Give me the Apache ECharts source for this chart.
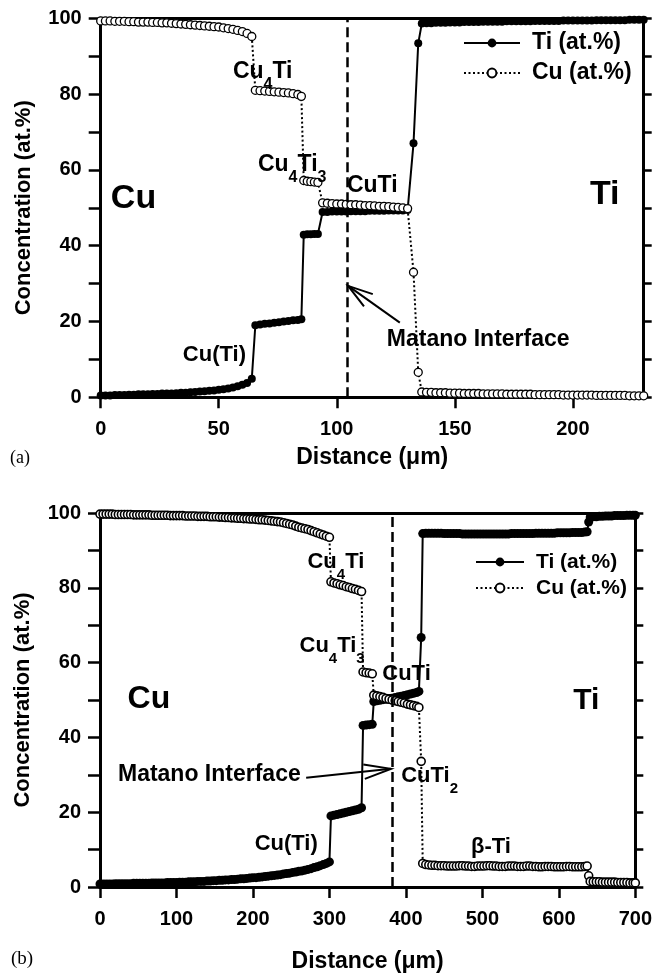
<!DOCTYPE html>
<html><head><meta charset="utf-8">
<script src="https://cdn.jsdelivr.net/npm/echarts@6/dist/echarts.min.js"></script>
<style>html,body{margin:0;padding:0;background:#fff}#c{width:655px;height:974px}</style>
</head><body><div id="c"></div>
<script>
// ---------------- Panel (a) data ----------------
const distA = [0,2,4,6,8,10,12,14,16,18,20,22,24,26,28,30,32,34,36,38,40,42,44,46,48,50,52,54,56,58,60,62,64,
  65.5,67.5,69.5,71.5,73.5,75.5,77.5,79.5,81.5,83.5,85,
  86,87.5,89,90.5,92,
  94,96,98,100,102,104,106,108,110,112,114,116,118,120,122,124,126,128,130,
  132.5,134.5,
  136,138,140,142,144,146,148,150,152,154,156,158,160,162,164,166,168,170,172,174,176,178,180,182,184,186,188,190,192,194,196,198,200,202,204,206,208,210,212,214,216,218,220,222,224,226,228,230];
const tiA = [0.5,0.5,0.5,0.6,0.6,0.6,0.7,0.7,0.8,0.8,0.8,0.9,0.9,1.0,1.0,1.0,1.1,1.2,1.2,1.3,1.4,1.5,1.6,1.7,1.8,2.0,2.1,2.3,2.6,2.9,3.3,3.8,4.9,
  19.0,19.2,19.4,19.5,19.7,19.8,20.0,20.1,20.3,20.4,20.6,
  42.9,43.0,43.0,43.1,43.1,
  48.9,48.9,49.0,49.0,49.0,49.0,49.1,49.1,49.1,49.1,49.2,49.2,49.2,49.2,49.3,49.3,49.3,49.3,49.4,
  67.0,93.4,
  98.6,98.7,98.7,98.8,98.8,98.8,98.9,98.9,98.9,99.0,99.0,99.0,99.0,99.1,99.1,99.1,99.1,99.1,99.2,99.2,
  99.2,99.2,99.2,99.2,99.3,99.3,99.3,99.3,99.3,99.3,99.4,99.4,99.4,99.4,99.4,99.4,99.4,99.5,99.5,99.5,
  99.5,99.5,99.5,99.5,99.6,99.6,99.6,99.6];
const cuA = [99.3,99.3,99.3,99.2,99.2,99.2,99.1,99.1,99.0,99.0,99.0,98.9,98.9,98.8,98.8,98.7,98.6,98.5,98.4,98.3,98.2,98.1,98.0,97.9,97.8,97.7,97.5,97.3,97.1,96.8,96.5,96.0,95.2,
  81.0,80.9,80.8,80.7,80.6,80.5,80.4,80.3,80.1,79.9,79.4,
  57.2,57.0,56.9,56.8,56.7,
  51.3,51.2,51.1,51.0,51.0,50.9,50.8,50.8,50.7,50.6,50.6,50.5,50.4,50.4,50.3,50.2,50.1,50.0,49.8,
  33.0,6.6,
  1.4,1.3,1.3,1.2,1.2,1.2,1.1,1.1,1.1,1.0,1.0,1.0,1.0,0.9,0.9,0.9,0.9,0.9,0.8,0.8,
  0.8,0.8,0.8,0.8,0.7,0.7,0.7,0.7,0.7,0.7,0.6,0.6,0.6,0.6,0.6,0.6,0.6,0.5,0.5,0.5,
  0.5,0.5,0.5,0.5,0.4,0.4,0.4,0.4];
const matanoA = 104.3;

// ---------------- Panel (b) data ----------------
const distB = [0,4,8,12,16,20,24,28,32,36,40,44,48,52,56,60,64,68,72,76,80,84,88,92,96,100,104,108,112,116,
  120,124,128,132,136,140,144,148,152,156,160,164,168,172,176,180,184,188,192,196,
  200,204,208,212,216,220,224,228,232,236,240,244,248,252,256,260,264,268,272,276,280,284,288,292,296,300,
  302,306,310,314,318,322,326,330,334,338,342,
  344,348,352,356,
  358,362,366,370,374,378,382,386,390,394,398,402,406,410,414,417,
  420,
  422,426,430,434,438,442,446,450,454,458,462,466,470,474,478,482,486,490,494,498,
  502,506,510,514,518,522,526,530,534,538,542,546,550,554,558,562,566,570,574,578,
  582,586,590,594,598,602,606,610,614,618,622,626,630,634,637,
  639,
  641,645,649,653,657,661,665,669,673,677,681,685,689,693,697,700];
const tiB = [0.8,0.8,0.8,0.8,0.8,0.9,0.9,0.9,0.9,0.9,0.9,1.0,1.0,1.0,1.0,1.0,1.0,1.1,1.1,1.1,
  1.1,1.1,1.2,1.2,1.2,1.2,1.3,1.3,1.3,1.4,1.4,1.4,1.5,1.5,1.5,1.6,1.6,1.7,1.7,1.8,
  1.8,1.9,1.9,2.0,2.0,2.1,2.2,2.2,2.3,2.4,2.5,2.5,2.6,2.7,2.8,2.9,3.0,3.1,3.2,3.3,
  3.5,3.6,3.7,3.9,4.0,4.2,4.3,4.5,4.7,4.9,5.2,5.4,5.7,6.0,6.3,6.7,
  19.0,19.2,19.4,19.6,19.8,20.0,20.2,20.4,20.6,20.8,21.2,
  43.2,43.3,43.4,43.5,
  49.6,49.8,49.9,50.1,50.2,50.4,50.5,50.7,50.9,51.0,51.2,51.4,51.6,51.8,52.0,52.3,
  66.7,
  94.5,94.6,94.6,94.6,94.6,94.6,94.6,94.5,94.5,94.5,94.5,94.5,94.5,94.4,94.4,94.4,94.4,94.4,94.4,94.4,
  94.4,94.4,94.4,94.4,94.4,94.4,94.4,94.4,94.4,94.5,94.5,94.5,94.5,94.5,94.5,94.5,94.5,94.6,94.6,94.6,
  94.6,94.6,94.6,94.6,94.7,94.7,94.7,94.7,94.7,94.8,94.8,94.8,94.8,94.9,95.0,
  97.6,
  98.9,99.0,99.0,99.1,99.1,99.2,99.2,99.2,99.3,99.3,99.3,99.3,99.4,99.4,99.4,99.4];
const cuB = [99.7,99.7,99.7,99.7,99.7,99.6,99.6,99.6,99.6,99.6,99.6,99.5,99.5,99.5,99.5,99.5,99.5,99.4,99.4,99.4,
  99.4,99.4,99.4,99.3,99.3,99.3,99.3,99.3,99.2,99.2,99.2,99.2,99.1,99.1,99.1,99.1,99.0,99.0,99.0,98.9,
  98.9,98.8,98.8,98.7,98.7,98.6,98.6,98.5,98.5,98.4,98.4,98.3,98.2,98.2,98.1,98.0,97.9,97.8,97.7,97.6,
  97.4,97.2,97.0,96.8,96.5,96.2,96.0,95.8,95.6,95.3,95.0,94.7,94.4,94.1,93.8,93.5,
  81.6,81.3,81.1,80.8,80.6,80.3,80.1,79.8,79.6,79.3,79.0,
  57.5,57.3,57.2,57.0,
  51.3,51.1,50.9,50.7,50.4,50.2,50.0,49.8,49.6,49.4,49.2,48.9,48.7,48.5,48.3,48.0,
  33.6,
  6.3,6.0,5.9,5.8,5.8,5.7,5.7,5.7,5.6,5.6,5.6,5.6,5.7,5.7,5.6,5.6,5.5,5.5,5.6,5.6,
  5.6,5.7,5.7,5.6,5.6,5.5,5.5,5.5,5.6,5.6,5.6,5.5,5.5,5.5,5.6,5.6,5.5,5.5,5.4,5.4,
  5.5,5.5,5.5,5.4,5.4,5.4,5.4,5.5,5.5,5.4,5.4,5.4,5.4,5.5,5.6,
  3.0,
  1.5,1.4,1.4,1.4,1.3,1.3,1.3,1.3,1.3,1.2,1.2,1.2,1.2,1.1,1.1,1.1];
const matanoB = 382;

// ---------------- Axes ticks / labels ----------------
const xTicksA = [0,50,100,150,200];
const xTicksB = [0,100,200,300,400,500,600,700];
const yTicks = [0,10,20,30,40,50,60,70,80,90,100];
const yLabels = [0,20,40,60,80,100];
const seriesNames = ['Ti (at.%)','Cu (at.%)'];

// annotations (data coordinates)
const notesA = [
  {t:'Cu', x:13.9, y:52.3, size:34, align:'center'},
  {t:'Ti', x:213.5, y:53.4, size:34, align:'center'},
  {t:'Cu{s|4}Ti', x:56.0, y:86.0, size:23, align:'left'},
  {t:'Cu{s|4}Ti{s|3}', x:66.6, y:61.3, size:23, align:'left'},
  {t:'CuTi', x:104.3, y:55.8, size:23, align:'left'},
  {t:'Cu(Ti)', x:34.8, y:11.3, size:22, align:'left'},
  {t:'Matano Interface', x:121.2, y:15.1, size:23, align:'left'}
];
const arrowA = {from:[126.7,19.7], to:[104.8,29.4]};
const notesB = [
  {t:'Cu', x:63.9, y:50.1, size:32, align:'center'},
  {t:'Ti', x:635.9, y:49.8, size:30, align:'center'},
  {t:'Cu{s|4}Ti', x:271.3, y:86.9, size:22, align:'left'},
  {t:'Cu{s|4}Ti{s|3}', x:260.9, y:64.5, size:22, align:'left'},
  {t:'CuTi', x:369.1, y:57.0, size:22, align:'left'},
  {t:'CuTi{s|2}', x:393.9, y:29.8, size:22, align:'left'},
  {t:'β-Ti', x:485.2, y:10.7, size:22, align:'left'},
  {t:'Cu(Ti)', x:202.2, y:11.4, size:22, align:'left'},
  {t:'Matano Interface', x:23.5, y:30.0, size:23, align:'left'}
];
const arrowB = {from:[269.6,29.2], to:[380.5,31.6]};

const F = '"Liberation Sans", Arial, Helvetica, sans-serif';
const chart = echarts.init(document.getElementById('c'), null, {renderer:'canvas'});

const txt = (size) => ({fontFamily:F, fontWeight:'bold', fontSize:size, color:'#000'});

function xAx(gi, max, ticks, gap){
  return [{
    gridIndex:gi, type:'value', min:0, max:max, position:'bottom',
    axisLine:{show:true, onZero:false, lineStyle:{color:'#000', width:3}},
    axisTick:{show:true, inside:false, length:11, lineStyle:{color:'#000', width:2.5}, customValues:ticks},
    axisLabel:Object.assign({margin:22, customValues:ticks}, txt(20)),
    splitLine:{show:false},
    name:'Distance (μm)', nameLocation:'middle', nameGap:gap, nameTextStyle:txt(23)
  },{
    gridIndex:gi, type:'value', min:0, max:max, position:'top',
    axisLine:{show:true, onZero:false, lineStyle:{color:'#000', width:3}},
    axisTick:{show:false}, axisLabel:{show:false}, splitLine:{show:false}
  }];
}
function yAx(gi){
  return [{
    gridIndex:gi, type:'value', min:0, max:100, interval:10, position:'left',
    axisLine:{show:true, onZero:false, lineStyle:{color:'#000', width:3}},
    axisTick:{show:true, inside:false, length:12, lineStyle:{color:'#000', width:2.5}, customValues:yTicks},
    axisLabel:Object.assign({margin:19, customValues:yLabels}, txt(20)),
    splitLine:{show:false},
    name:'Concentration (at.%)', nameLocation:'middle', nameRotate:90, nameGap:66, nameTextStyle:txt(22)
  },{
    gridIndex:gi, type:'value', min:0, max:100, interval:10, position:'right',
    axisLine:{show:true, onZero:false, lineStyle:{color:'#000', width:3}},
    axisTick:{show:true, inside:false, length:8, lineStyle:{color:'#000', width:2.5}, customValues:yTicks},
    axisLabel:{show:false}, splitLine:{show:false}
  }];
}
function mkSeries(gi, xs, ys, isTi, matano){
  const dense = gi === 1;
  const s = {
    type:'line', name: isTi ? seriesNames[0] : seriesNames[1],
    xAxisIndex: gi*2, yAxisIndex: gi*2,
    data: xs.map((x,i)=>[x, ys[i]]),
    symbol:'circle', symbolSize: isTi ? (dense ? 9 : 8) : 8, showSymbol:true, animation:false,
    z: isTi ? 3 : 4,
    lineStyle: isTi ? {color:'#000', width:2} : {color:'#000', width:2, type:[2,2.5]},
    itemStyle: isTi ? {color:'#000'} : {color:'#fff', borderColor:'#000', borderWidth: dense ? 1.6 : 1.3},
    emphasis:{disabled:true}
  };
  if (isTi) {
    s.markLine = {silent:true, symbol:['none','none'], animation:false, label:{show:false},
      lineStyle:{color:'#000', type:[10,5], width:2.5}, emphasis:{disabled:true},
      data:[{xAxis: matano}]};
  }
  return s;
}
function legendOf(left, top, w, size, gap){
  return {data:seriesNames, orient:'vertical', left:left, top:top, padding:0,
    itemWidth:w, itemHeight:11, itemGap:gap, selectedMode:false,
    textStyle:{fontFamily:F, fontWeight:'bold', fontSize:size, color:'#000', lineHeight:size, padding:[0,0,0,7]}};
}

chart.setOption({
  animation:false,
  backgroundColor:'#fff',
  grid:[{left:100.7, top:18.3, width:543, height:379},
        {left:100, top:513, width:537.7, height:374.7}],
  xAxis:[...xAx(0,230,xTicksA,49), ...xAx(1,700,xTicksB,63)],
  yAxis:[...yAx(0), ...yAx(1)],
  legend:[legendOf(463, 31.5, 56, 23, 7), legendOf(475, 551.5, 48, 21, 5)],
  series:[
    mkSeries(0, distA, tiA, true, matanoA),
    mkSeries(0, distA, cuA, false),
    mkSeries(1, distB, tiB, true, matanoB),
    mkSeries(1, distB, cuB, false)
  ]
});

function toPx(gi, p){ return chart.convertToPixel({xAxisIndex:gi*2, yAxisIndex:gi*2}, p); }
const graphics = [];
function addNotes(gi, notes){
  notes.forEach(n=>{
    const p = toPx(gi, [n.x, n.y]);
    const sub = Math.round(n.size*0.68);
    graphics.push({type:'text', x:p[0], y:p[1], silent:true, z:100,
      style:{text:n.t, fill:'#000', fontFamily:F, fontWeight:'bold', fontSize:n.size,
        align:n.align, verticalAlign:'middle',
        rich:{s:{fill:'#000', fontFamily:F, fontWeight:'bold', fontSize:sub, padding:[26,0,0,0]}}}});
  });
}
function addArrow(gi, a, len, ang){
  const t = toPx(gi, a.from), h = toPx(gi, a.to);
  const th = Math.atan2(t[1]-h[1], t[0]-h[0]);
  const r = ang*Math.PI/180;
  const w1 = [h[0]+len*Math.cos(th+r), h[1]+len*Math.sin(th+r)];
  const w2 = [h[0]+len*Math.cos(th-r), h[1]+len*Math.sin(th-r)];
  graphics.push({type:'line', silent:true, z:100, shape:{x1:t[0],y1:t[1],x2:h[0],y2:h[1]}, style:{stroke:'#000', lineWidth:2}});
  graphics.push({type:'polyline', silent:true, z:100, shape:{points:[w1,h,w2]}, style:{stroke:'#000', lineWidth:2, fill:null}});
}
addNotes(0, notesA); addNotes(1, notesB);
addArrow(0, arrowA, 26, 17); addArrow(1, arrowB, 28, 15);
graphics.push({type:'text', left:10, top:449, silent:true, style:{text:'(a)', fill:'#000', fontFamily:'"Liberation Serif", "Times New Roman", serif', fontSize:18}});
graphics.push({type:'text', left:11, top:950, silent:true, style:{text:'(b)', fill:'#000', fontFamily:'"Liberation Serif", "Times New Roman", serif', fontSize:19}});
chart.setOption({graphic:graphics});
</script>
</body></html>
